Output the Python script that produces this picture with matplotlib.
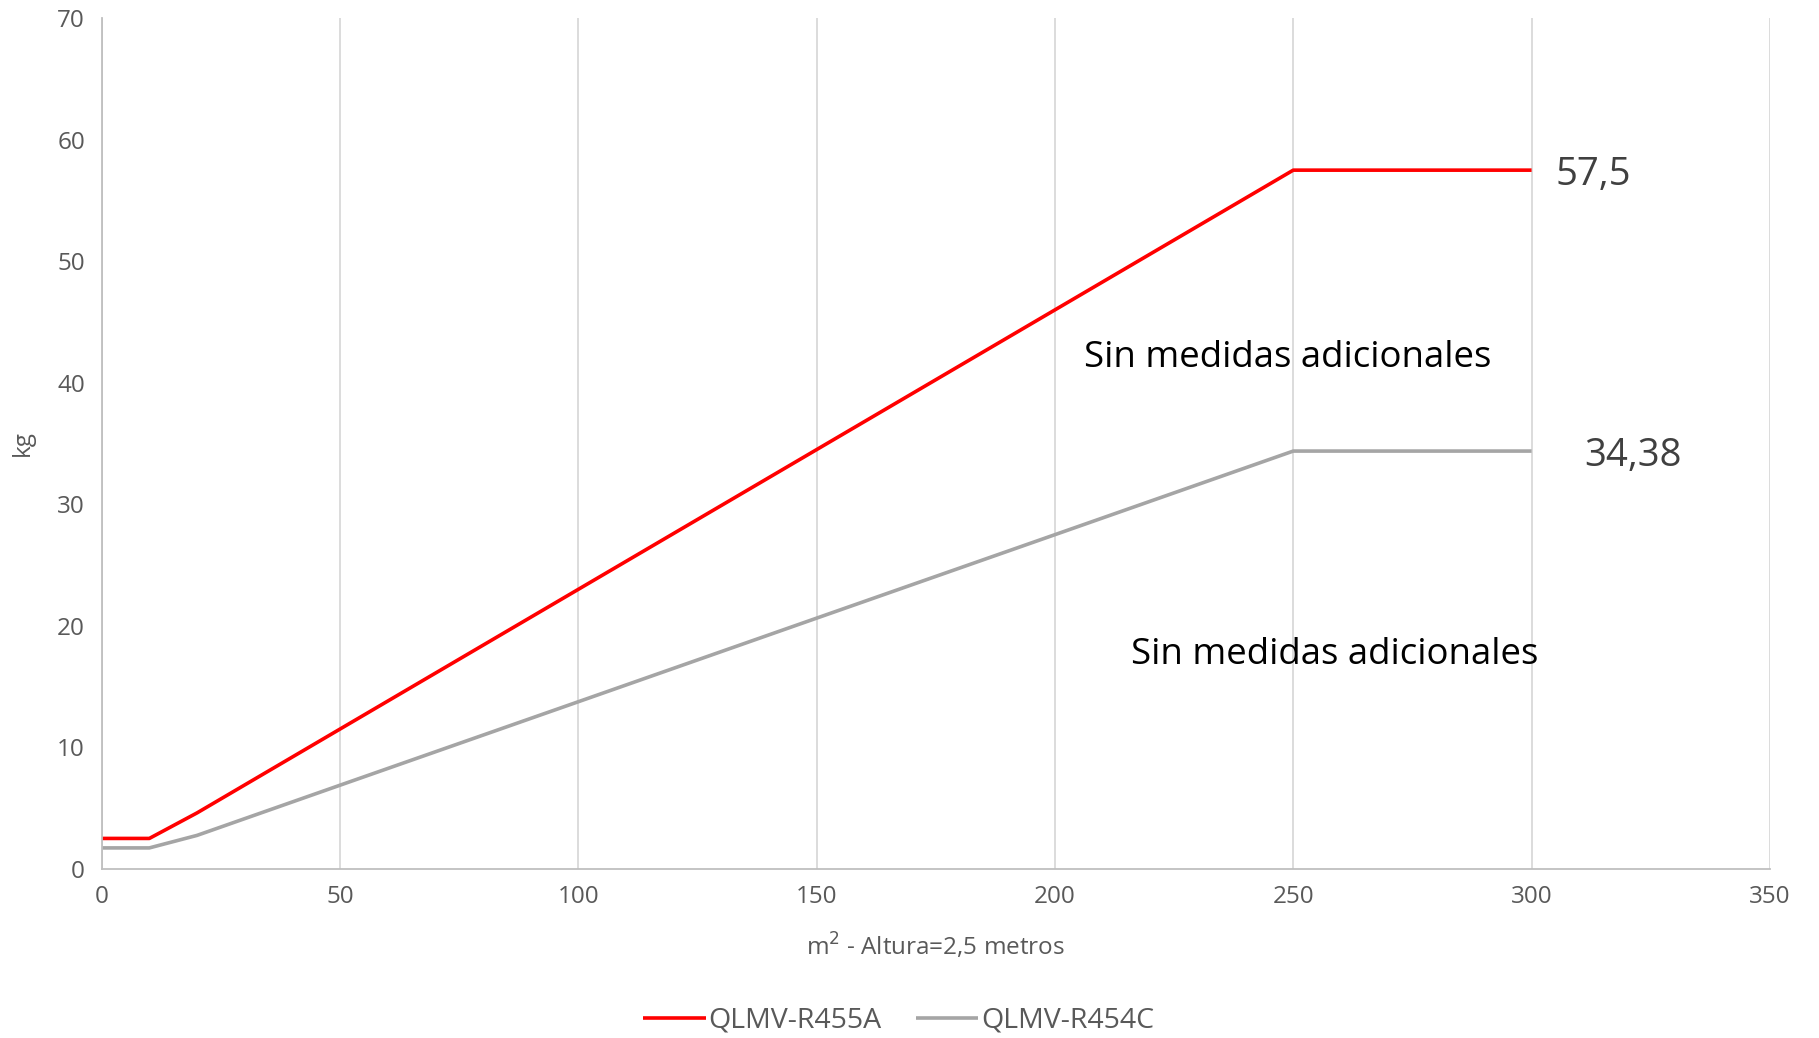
import matplotlib.pyplot as plt

plt.rcParams['font.family'] = ['Open Sans', 'DejaVu Sans']

# Superficie (m2) y carga máxima de refrigerante (kg)
area = [0, 10, 20, 50, 100, 150, 200, 250, 300]
carga_r455a = [2.5, 2.5, 4.6, 11.5, 23.0, 34.5, 46.0, 57.5, 57.5]
carga_r454c = [1.72, 1.72, 2.75, 6.88, 13.75, 20.63, 27.5, 34.38, 34.38]

series = [
    ("QLMV-R455A", carga_r455a, "#ff0000"),
    ("QLMV-R454C", carga_r454c, "#a5a5a5"),
]

fig = plt.figure(figsize=(18.19, 10.38), dpi=100)
ax = fig.add_axes([0.0559, 0.163, 0.9171, 0.8194])

for name, vals, col in series:
    ax.plot(area, vals, color=col, lw=2.6, label=name, solid_capstyle='butt')

ax.set_xlim(0, 350)
ax.set_ylim(0, 70)
ax.set_xticks(range(0, 351, 50))
ax.set_yticks(range(0, 71, 10))
ax.tick_params(length=0, labelsize=17.5, colors='#595959', pad=12)
ax.xaxis.grid(True, color='#d9d9d9', lw=1.3)
ax.set_axisbelow(True)
for s in ['top', 'right']:
    ax.spines[s].set_visible(False)
for s in ['left', 'bottom']:
    ax.spines[s].set_color('#bfbfbf')
    ax.spines[s].set_linewidth(1.3)

ax.set_xlabel("m$^2$ - Altura=2,5 metros", fontsize=17.5, color='#595959', labelpad=16)
ax.set_ylabel("kg", fontsize=17.5, color='#595959', labelpad=16)

# Valores finales y zonas
ax.text(305, carga_r455a[-1], "57,5", fontsize=27.5, color='#404040', va='center_baseline')
ax.text(311, carga_r454c[-1], "34,38", fontsize=27.5, color='#404040', va='center_baseline')
ax.text(206, 42.4, "Sin medidas adicionales", fontsize=26.4, color='black', va='center_baseline')
ax.text(216, 18.0, "Sin medidas adicionales", fontsize=26.4, color='black', va='center_baseline')

fig.legend(loc='center', bbox_to_anchor=(0.494, 0.0164), ncol=2, frameon=False,
           fontsize=20.5, handlelength=2.2, handletextpad=0.1, columnspacing=1.2,
           labelcolor='#595959')

fig.savefig("out.png", dpi=100)
